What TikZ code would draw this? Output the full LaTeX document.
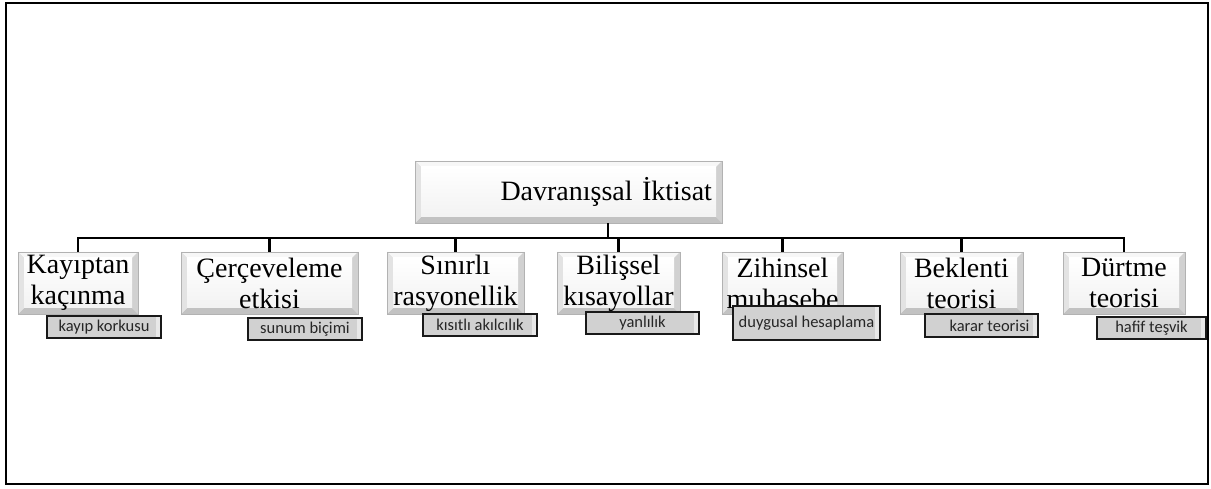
\documentclass[tikz,border=0pt]{standalone}
\usepackage{fontspec}
\setmainfont{Liberation Serif}
\newfontfamily\lblfont{Carlito}
\tikzset{
  conn/.style={draw=black, line width=2.8pt},
  bevelbox/.style={draw=black!30, line width=0.8pt, inner sep=0pt, align=center,
    font=\fontsize{28}{31}\selectfont,
    path picture={
      \fill[black!10] (path picture bounding box.north west) rectangle (path picture bounding box.south east);
      \fill[black!3] (path picture bounding box.north west) -- (path picture bounding box.north east)
        -- ([shift={(-6pt,-6pt)}]path picture bounding box.north east) -- ([shift={(6pt,-6pt)}]path picture bounding box.north west) -- cycle;
      \fill[black!24] (path picture bounding box.south west) -- (path picture bounding box.south east)
        -- ([shift={(-6pt,6pt)}]path picture bounding box.south east) -- ([shift={(6pt,6pt)}]path picture bounding box.south west) -- cycle;
      \fill[black!11] (path picture bounding box.north west) -- (path picture bounding box.south west)
        -- ([shift={(6pt,6pt)}]path picture bounding box.south west) -- ([shift={(6pt,-6pt)}]path picture bounding box.north west) -- cycle;
      \fill[black!18] (path picture bounding box.north east) -- (path picture bounding box.south east)
        -- ([shift={(-6pt,6pt)}]path picture bounding box.south east) -- ([shift={(-6pt,-6pt)}]path picture bounding box.north east) -- cycle;
      \shade[top color=white, bottom color=black!5] ([shift={(6pt,-6pt)}]path picture bounding box.north west) rectangle ([shift={(-6pt,6pt)}]path picture bounding box.south east);
    }},
  lbl/.style={draw=black!90, line width=2.8pt, fill=black!18, inner sep=0pt, align=center,
    font=\lblfont\fontsize{16.5}{18}\selectfont, text=black!85,
    path picture={
      \fill[black!9] ([shift={(-5pt,-1.5pt)}]path picture bounding box.north east) rectangle ([shift={(-1.5pt,1.5pt)}]path picture bounding box.south east);
    }},
}
\begin{document}
\begin{tikzpicture}[x=1pt,y=-1pt]
\useasboundingbox (0,0) rectangle (1211,489);
\draw[line width=2pt] (6,3) rectangle (1208,484);

\node[bevelbox, minimum width=307pt, minimum height=62pt, text width=287pt, align=right] (root) at (568.5,192) {Davranışsal İktisat};

\node[bevelbox, minimum width=120pt, minimum height=62pt] (c1) at (78,283) {Kayıptan\\kaçınma};
\node[bevelbox, minimum width=177pt, minimum height=62pt] (c2) at (269.5,283) {Çerçeveleme\\etkisi};
\node[bevelbox, minimum width=137pt, minimum height=62pt] (c3) at (455.5,283) {Sınırlı\\rasyonellik};
\node[bevelbox, minimum width=123pt, minimum height=62pt] (c4) at (618.5,283) {Bilişsel\\kısayollar};
\node[bevelbox, minimum width=121pt, minimum height=62pt] (c5) at (782.5,283) {Zihinsel\\muhasebe};
\node[bevelbox, minimum width=123pt, minimum height=62pt] (c6) at (961.5,283) {Beklenti\\teorisi};
\node[bevelbox, minimum width=122pt, minimum height=62pt] (c7) at (1124,283) {Dürtme\\teorisi};

\coordinate (rb) at ([xshift=39.5pt]root.south);
\coordinate (bar) at (608,238);
\draw[conn] (rb) -- (bar);
\foreach \c in {c1,c2,c3,c4,c5,c6,c7}{
  \draw[conn] (bar) -| (\c.north);
}

\node[lbl, minimum width=114pt, minimum height=22pt] (l1) at (104,327) {kayıp korkusu};
\node[lbl, minimum width=114pt, minimum height=22pt] (l2) at (305,329) {sunum biçimi};
\node[lbl, minimum width=114pt, minimum height=22pt] (l3) at (480,325) {kısıtlı akılcılık};
\node[lbl, minimum width=113pt, minimum height=22pt] (l4) at (642.5,323) {yanlılık};
\node[lbl, minimum width=147pt, minimum height=34pt] (l5) at (806.5,323) {duygusal hesaplama};
\node[lbl, minimum width=113pt, minimum height=23pt] (l6) at (981.5,325.5) {\hspace*{16pt}karar teorisi};
\node[lbl, minimum width=109pt, minimum height=22pt] (l7) at (1151.5,328) {hafif teşvik};
\end{tikzpicture}
\end{document}
